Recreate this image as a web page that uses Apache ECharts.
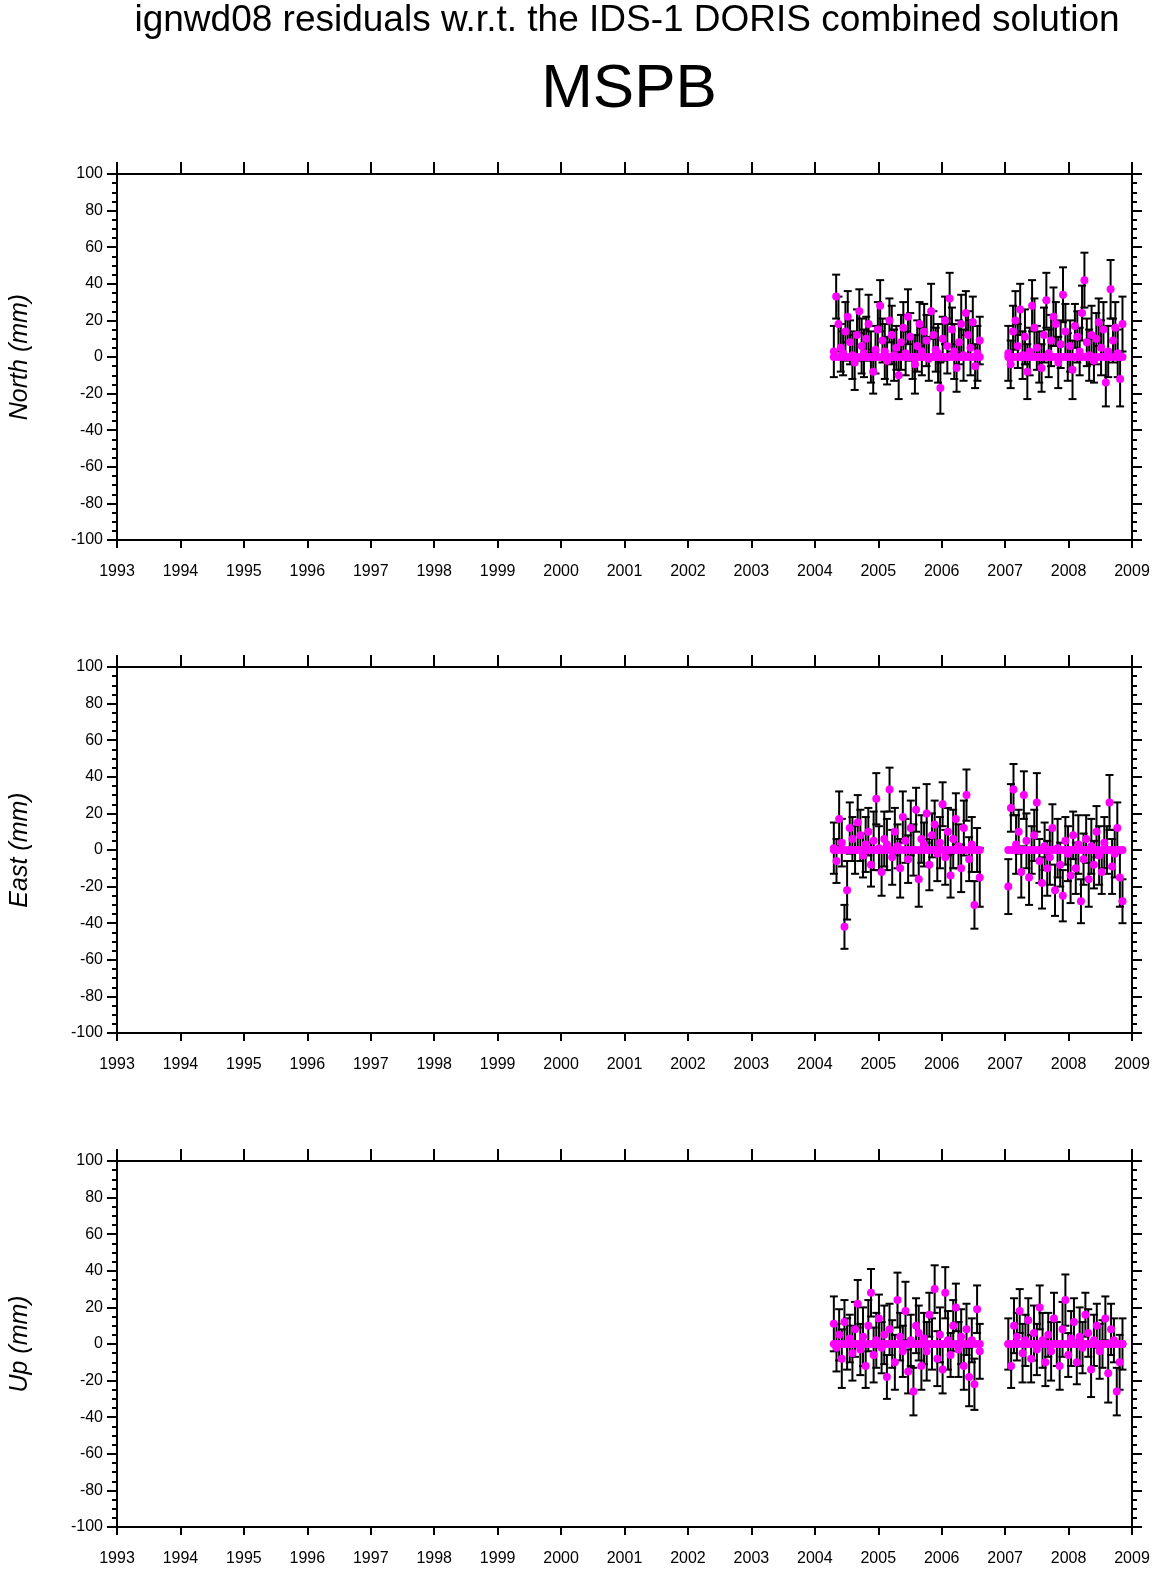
<!DOCTYPE html>
<html><head><meta charset="utf-8">
<script src="https://cdn.jsdelivr.net/npm/echarts@6/dist/echarts.min.js"></script>
<style>body{margin:0;background:#fff}#c{width:1160px;height:1575px}</style>
</head><body><div id="c"></div>
<script>
// two observation spans, sampled evenly
var seg1 = [2004.3, 2006.6];
var seg2 = [2007.05, 2008.85];

var north1 = [3,33,18,5,2,14,22,8,1,-3,12,25,6,2,10,18,0,-8,4,15,28,9,3,-2,20,12,1,5,-10,8,16,2,22,11,0,-4,6,18,3,14,9,-1,25,12,4,2,-17,10,20,6,32,15,3,-6,8,18,1,24,12,5,19,-5,2,9];
var north2 = [2,-4,14,20,6,26,1,11,-8,3,28,16,5,0,-6,12,31,2,9,22,18,-3,7,34,14,0,6,-7,17,11,3,24,42,8,1,12,-2,10,19,5,15,-14,3,37,9,16,2,-12,18];
var east1 = [1,-6,17,4,-42,-22,12,6,0,15,8,-3,3,10,-8,5,28,1,-12,6,3,33,-4,10,2,-10,18,5,-5,12,0,22,-16,6,3,20,-8,8,14,-2,4,25,-4,10,-14,6,17,2,-10,12,30,-5,3,-30,0,-15];
var east2 = [-20,23,33,3,10,-12,30,5,-15,0,8,26,-6,-18,2,-10,-4,12,-22,1,-8,-25,5,-2,-14,8,-10,3,-28,-5,6,-16,2,-8,10,-3,-12,4,0,26,-9,-2,12,-15,-28];
var up1 = [11,-2,5,-8,12,0,3,-5,8,22,-3,4,-12,10,28,-6,2,14,-2,5,-18,8,0,-10,24,4,-4,18,-15,2,-26,10,6,-12,3,-4,16,0,30,-8,5,-14,28,2,-6,10,20,-3,4,-12,8,-18,2,-22,19,-4];
var up2 = [0,-12,10,4,18,-5,2,13,-8,6,-3,20,2,-10,5,-4,14,0,-12,8,24,-6,3,12,-10,4,-2,16,6,-14,2,10,-4,0,14,-16,8,2,-26,-10,0];
var sig1 = [14,12,15,13,12,16,14,12,13,15];
var sig2 = [15,13,14,16,12,14,13,15];

function pts(span, vals, sig) {
  var out = [];
  var n = vals.length;
  for (var i = 0; i < n; i++) {
    var t = span[0] + (span[1] - span[0]) * i / (n - 1);
    out.push([t, vals[i], sig[i % sig.length]]);
  }
  return out;
}

var panels = [
  {name: 'North (mm)', top: 174, d: pts(seg1, north1, sig1).concat(pts(seg2, north2, sig2))},
  {name: 'East (mm)', top: 667, d: pts(seg1, east1, sig1).concat(pts(seg2, east2, sig2))},
  {name: 'Up (mm)', top: 1161, d: pts(seg1, up1, sig2).concat(pts(seg2, up2, sig1))}
];
// zero-valued points forming the magenta band at 0
var zeros = pts(seg1, new Array(40).fill(0), [3]).concat(pts(seg2, new Array(32).fill(0), [3]));

var grids = [], xAxes = [], yAxes = [], series = [];
var tickStyle = {color: '#000', width: 2};
var font = 'Liberation Sans';
panels.forEach(function (p, i) {
  grids.push({left: 116, width: 1016, top: p.top, height: 366});
  xAxes.push({type: 'value', gridIndex: i, min: 1993, max: 2009, interval: 1,
    axisLine: {onZero: false, lineStyle: {color: '#000', width: 2}}, axisTick: {length: 8, lineStyle: tickStyle},
    axisLabel: {color: '#000', fontSize: 16, fontFamily: font, margin: 24, formatter: function (v) { return String(v); }},
    splitLine: {show: false}});
  xAxes.push({type: 'value', gridIndex: i, position: 'top', min: 1993, max: 2009, interval: 1,
    axisLine: {onZero: false, lineStyle: {color: '#000', width: 2}}, axisTick: {length: 12, lineStyle: tickStyle},
    axisLabel: {show: false}, splitLine: {show: false}});
  var ya = {type: 'value', gridIndex: i, min: -100, max: 100, interval: 20,
    axisLine: {show: true, onZero: false, lineStyle: {color: '#000', width: 2}},
    axisTick: {length: 10, lineStyle: tickStyle},
    minorTick: {show: true, splitNumber: 4, length: 5, lineStyle: tickStyle},
    splitLine: {show: false}};
  yAxes.push(Object.assign({}, ya, {name: p.name, nameLocation: 'middle', nameGap: 84,
    nameTextStyle: {fontSize: 25, fontStyle: 'italic', color: '#000', fontFamily: font},
    axisLabel: {color: '#000', fontSize: 16, fontFamily: font, margin: 14}}));
  yAxes.push(Object.assign({}, ya, {position: 'right', axisLabel: {show: false}}));
  series.push({type: 'custom', xAxisIndex: 2 * i, yAxisIndex: 2 * i, data: p.d,
    renderItem: function (params, api) {
      var lo = api.coord([api.value(0), api.value(1) - api.value(2)]);
      var hi = api.coord([api.value(0), api.value(1) + api.value(2)]);
      var st = {stroke: '#000', lineWidth: 2};
      return {type: 'group', children: [
        {type: 'line', shape: {x1: lo[0], y1: lo[1], x2: hi[0], y2: hi[1]}, style: st},
        {type: 'line', shape: {x1: lo[0] - 4, y1: lo[1], x2: lo[0] + 4, y2: lo[1]}, style: st},
        {type: 'line', shape: {x1: hi[0] - 4, y1: hi[1], x2: hi[0] + 4, y2: hi[1]}, style: st}
      ]};
    }});
  series.push({type: 'scatter', xAxisIndex: 2 * i, yAxisIndex: 2 * i, symbolSize: 8,
    itemStyle: {color: '#ff00ff', opacity: 1}, data: zeros.concat(p.d)});
});

var chart = echarts.init(document.getElementById('c'));
chart.setOption({
  animation: false,
  backgroundColor: '#fff',
  title: [
    {text: 'ignwd08 residuals w.r.t. the IDS-1 DORIS combined solution', left: 622, textAlign: 'center', top: -3,
      textStyle: {fontSize: 37, fontWeight: 'normal', color: '#000', fontFamily: font}},
    {text: 'MSPB', left: 624, textAlign: 'center', top: 54,
      textStyle: {fontSize: 62, fontWeight: 'normal', color: '#000', fontFamily: font}}
  ],
  grid: grids, xAxis: xAxes, yAxis: yAxes, series: series
});
</script></body></html>
